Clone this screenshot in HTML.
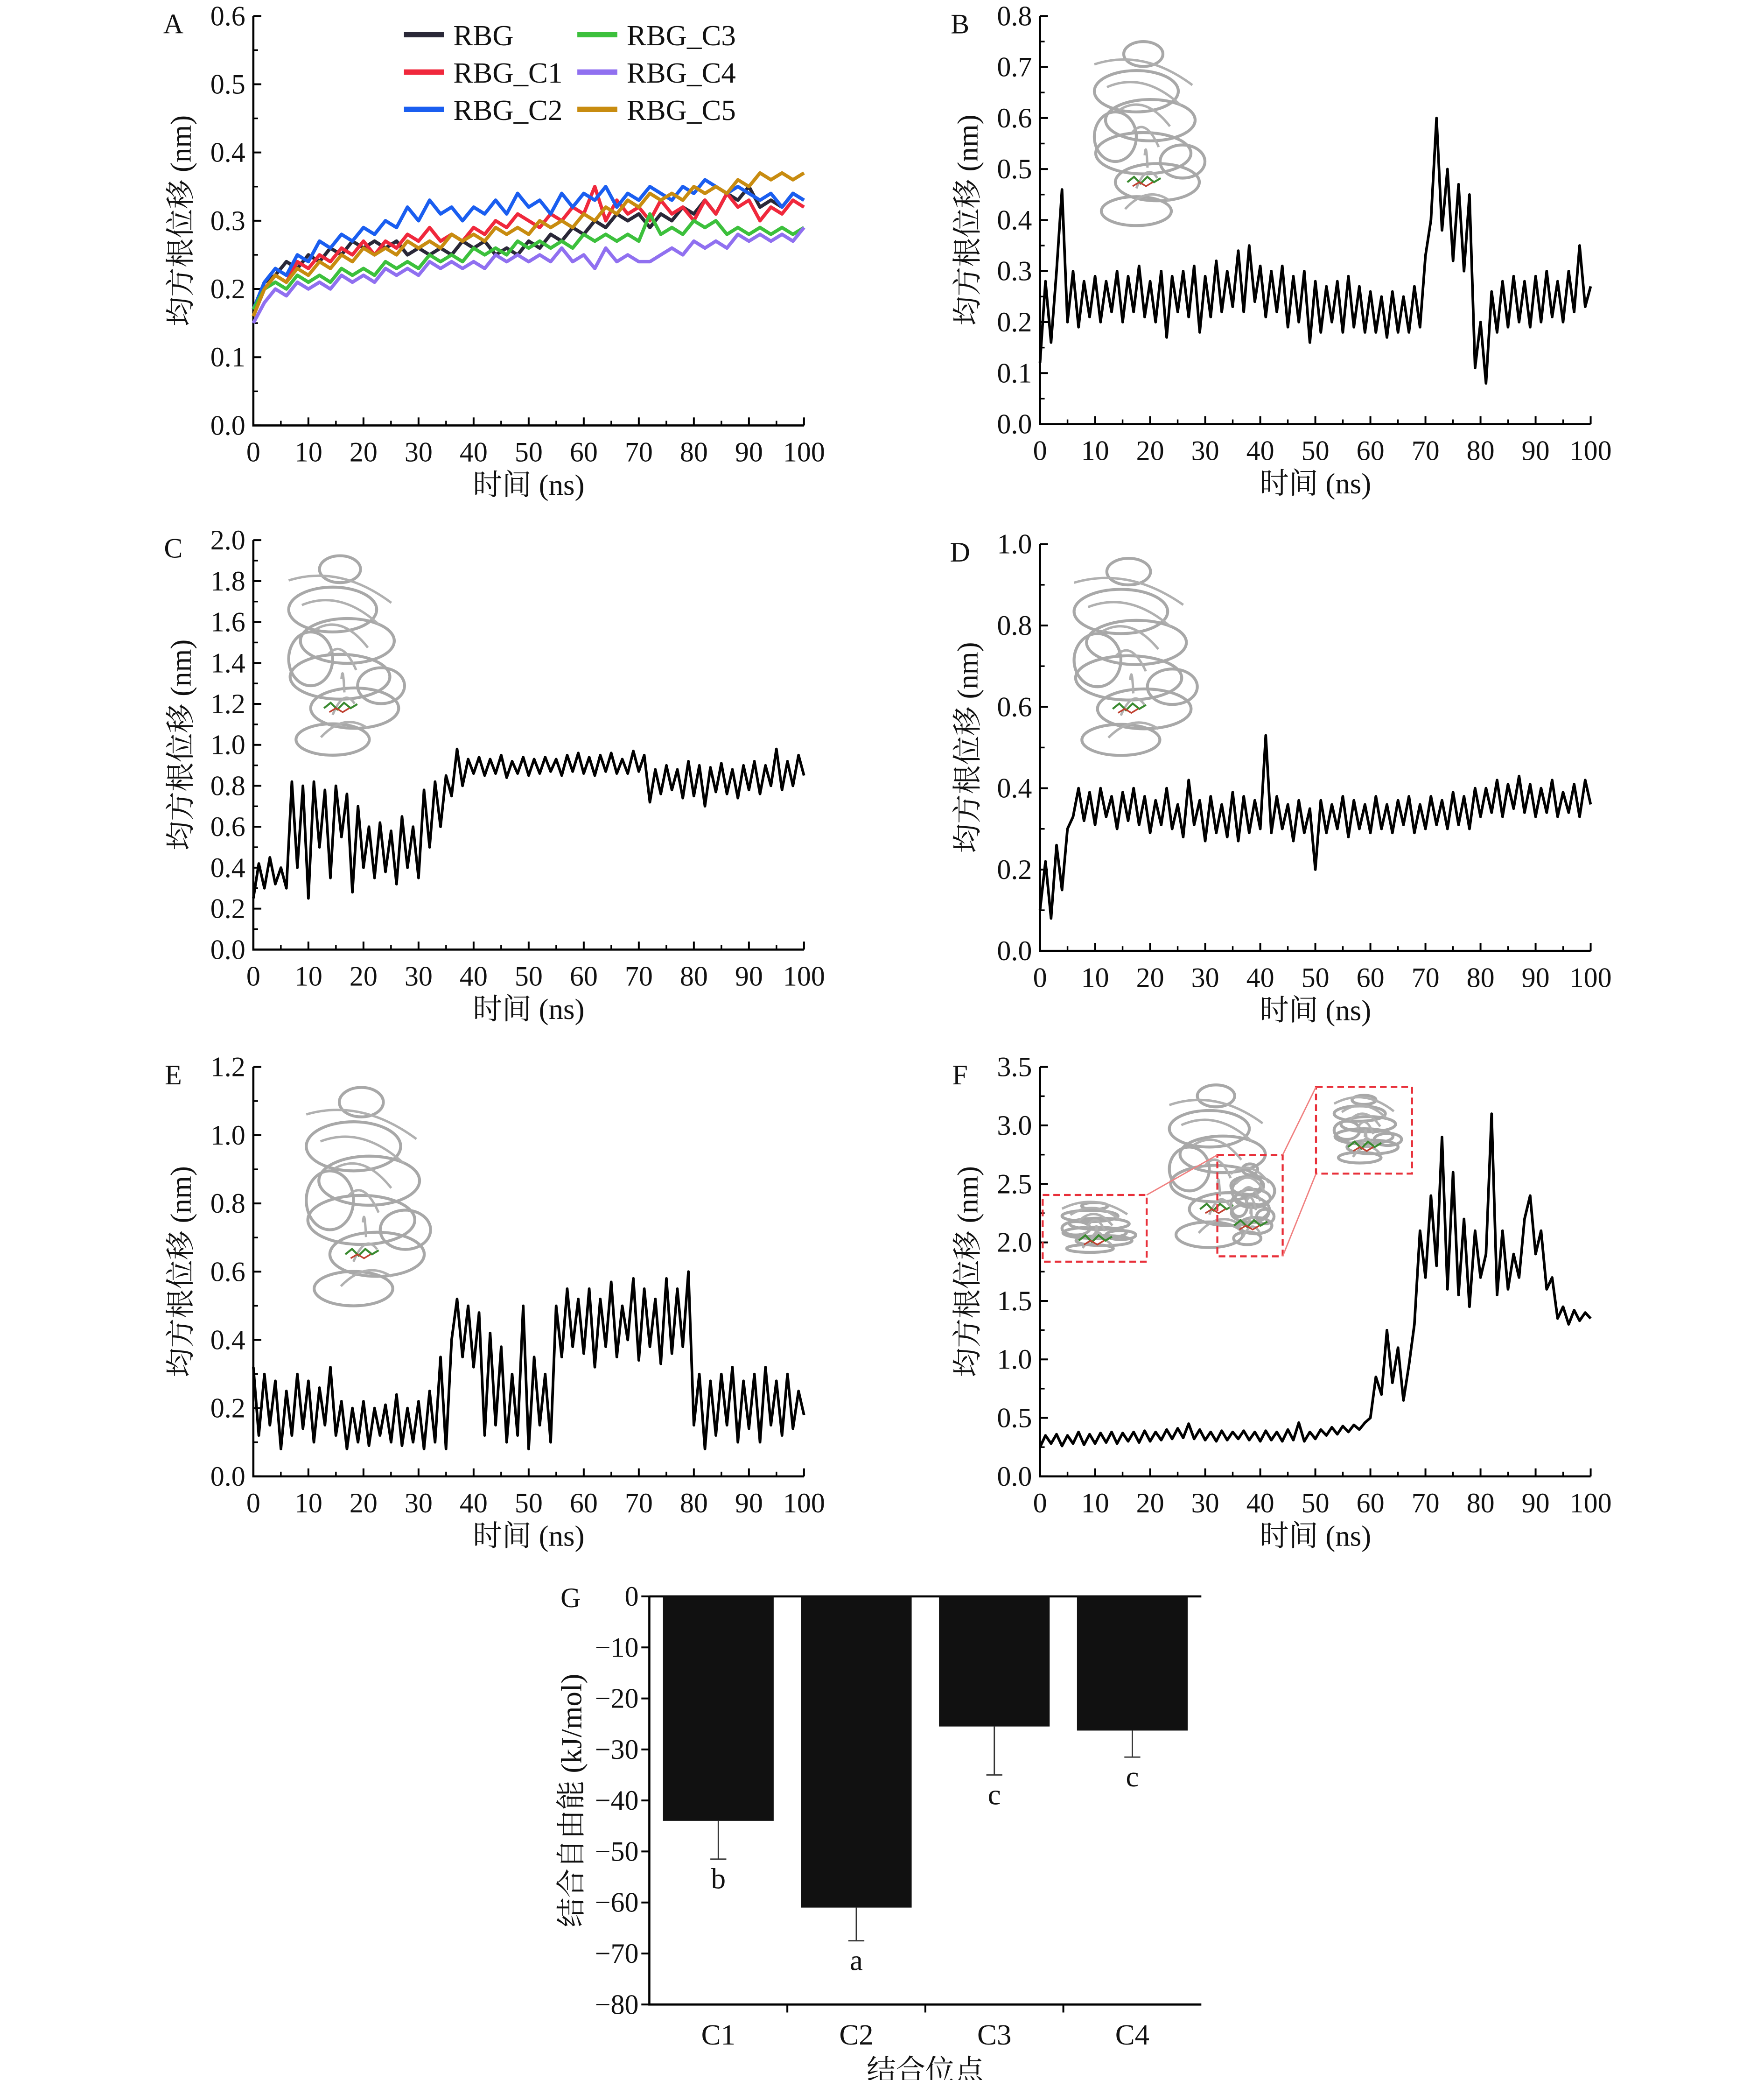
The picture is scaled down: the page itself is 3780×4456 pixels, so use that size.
<!DOCTYPE html>
<html><head><meta charset="utf-8"><style>
html,body{margin:0;padding:0;background:#fff}
svg{display:block}
text{font-family:"Liberation Serif","Noto Serif CJK SC","Noto Sans CJK SC",serif;fill:#111}
</style></head><body>
<svg id="fig" width="3780" height="4456" viewBox="0 0 1323 1559.6" preserveAspectRatio="none" xmlns="http://www.w3.org/2000/svg"></svg>
<script>
// ---------- data ----------
const seriesNamesA = ["RBG","RBG_C1","RBG_C2","RBG_C3","RBG_C4","RBG_C5"];
const seriesColorsA = ["#2a2838","#f0283c","#1a5ef0","#3cc03c","#9070f0","#c88c10"];
const rbgA = [0.17,0.21,0.22,0.24,0.23,0.25,0.24,0.26,0.25,0.27,0.26,0.27,0.26,0.27,0.25,0.26,0.25,0.26,0.25,0.27,0.26,0.27,0.25,0.26,0.25,0.27,0.26,0.28,0.27,0.29,0.28,0.30,0.29,0.31,0.30,0.31,0.29,0.31,0.30,0.32,0.31,0.33,0.31,0.34,0.33,0.35,0.32,0.33,0.32,0.34,0.33];
const c1A = [0.16,0.20,0.22,0.21,0.24,0.23,0.25,0.24,0.26,0.25,0.27,0.25,0.27,0.26,0.28,0.27,0.29,0.27,0.28,0.27,0.29,0.28,0.30,0.29,0.31,0.30,0.29,0.31,0.30,0.32,0.31,0.35,0.30,0.33,0.31,0.32,0.30,0.33,0.31,0.32,0.30,0.33,0.31,0.34,0.32,0.33,0.30,0.32,0.31,0.33,0.32];
const c2A = [0.17,0.21,0.23,0.22,0.25,0.24,0.27,0.26,0.28,0.27,0.29,0.28,0.30,0.29,0.32,0.30,0.33,0.31,0.32,0.30,0.32,0.31,0.33,0.31,0.34,0.32,0.33,0.31,0.34,0.32,0.34,0.33,0.35,0.32,0.34,0.33,0.35,0.34,0.33,0.35,0.34,0.36,0.35,0.34,0.35,0.34,0.33,0.34,0.32,0.34,0.33];
const c3A = [0.17,0.20,0.21,0.20,0.22,0.21,0.22,0.21,0.23,0.22,0.23,0.22,0.24,0.23,0.24,0.23,0.25,0.24,0.25,0.24,0.26,0.25,0.26,0.25,0.27,0.26,0.27,0.26,0.27,0.26,0.28,0.27,0.28,0.27,0.28,0.27,0.31,0.28,0.29,0.28,0.30,0.29,0.30,0.28,0.29,0.28,0.29,0.28,0.29,0.28,0.29];
const c4A = [0.15,0.18,0.20,0.19,0.21,0.20,0.21,0.20,0.22,0.21,0.22,0.21,0.23,0.22,0.23,0.22,0.24,0.23,0.24,0.23,0.24,0.23,0.25,0.24,0.25,0.24,0.25,0.24,0.26,0.24,0.25,0.23,0.26,0.24,0.25,0.24,0.24,0.25,0.26,0.25,0.27,0.26,0.27,0.26,0.28,0.27,0.28,0.27,0.28,0.27,0.29];
const c5A = [0.16,0.20,0.22,0.21,0.23,0.22,0.24,0.23,0.25,0.24,0.26,0.25,0.26,0.25,0.27,0.26,0.27,0.26,0.28,0.27,0.28,0.27,0.29,0.28,0.29,0.28,0.30,0.29,0.30,0.29,0.31,0.30,0.32,0.31,0.33,0.32,0.34,0.33,0.34,0.33,0.35,0.34,0.35,0.34,0.36,0.35,0.37,0.36,0.37,0.36,0.37];
const rmsdB = [0.12,0.28,0.16,0.30,0.46,0.20,0.30,0.19,0.28,0.21,0.29,0.20,0.28,0.22,0.30,0.20,0.29,0.22,0.31,0.21,0.28,0.20,0.30,0.17,0.29,0.22,0.30,0.21,0.31,0.18,0.29,0.21,0.32,0.22,0.30,0.23,0.34,0.22,0.35,0.24,0.31,0.21,0.30,0.22,0.31,0.19,0.29,0.20,0.30,0.16,0.28,0.18,0.27,0.20,0.28,0.18,0.29,0.19,0.27,0.18,0.26,0.18,0.25,0.17,0.26,0.18,0.25,0.18,0.27,0.19,0.33,0.40,0.60,0.38,0.50,0.32,0.47,0.30,0.45,0.11,0.20,0.08,0.26,0.18,0.28,0.19,0.29,0.20,0.28,0.19,0.29,0.20,0.30,0.21,0.28,0.20,0.30,0.22,0.35,0.23,0.27];
const rmsdC = [0.25,0.42,0.30,0.45,0.32,0.40,0.30,0.82,0.40,0.80,0.25,0.82,0.50,0.78,0.35,0.80,0.55,0.76,0.28,0.70,0.40,0.60,0.35,0.62,0.38,0.58,0.32,0.65,0.40,0.60,0.35,0.78,0.50,0.82,0.60,0.85,0.75,0.98,0.80,0.93,0.86,0.94,0.85,0.93,0.86,0.95,0.84,0.92,0.86,0.94,0.85,0.93,0.86,0.94,0.87,0.93,0.85,0.95,0.87,0.96,0.86,0.94,0.85,0.95,0.87,0.96,0.86,0.93,0.86,0.97,0.87,0.95,0.72,0.88,0.76,0.90,0.78,0.88,0.74,0.92,0.75,0.90,0.70,0.89,0.77,0.91,0.76,0.88,0.74,0.90,0.78,0.92,0.76,0.90,0.80,0.98,0.78,0.92,0.80,0.95,0.85];
const rmsdD = [0.10,0.22,0.08,0.26,0.15,0.30,0.33,0.40,0.32,0.39,0.31,0.40,0.33,0.38,0.30,0.39,0.32,0.40,0.31,0.38,0.29,0.37,0.31,0.40,0.30,0.36,0.28,0.42,0.31,0.37,0.27,0.38,0.29,0.36,0.28,0.39,0.27,0.38,0.29,0.37,0.30,0.53,0.29,0.38,0.30,0.36,0.27,0.37,0.29,0.35,0.20,0.37,0.29,0.36,0.30,0.38,0.28,0.37,0.30,0.36,0.29,0.38,0.30,0.36,0.29,0.37,0.31,0.38,0.29,0.36,0.30,0.38,0.31,0.37,0.30,0.39,0.31,0.38,0.30,0.40,0.33,0.40,0.34,0.42,0.33,0.41,0.35,0.43,0.34,0.41,0.33,0.40,0.34,0.42,0.33,0.39,0.34,0.41,0.33,0.42,0.36];
const rmsdE = [0.32,0.12,0.30,0.15,0.28,0.08,0.25,0.12,0.30,0.14,0.28,0.10,0.26,0.15,0.32,0.12,0.22,0.08,0.20,0.10,0.22,0.09,0.20,0.12,0.21,0.10,0.24,0.09,0.20,0.10,0.22,0.08,0.25,0.10,0.35,0.08,0.40,0.52,0.35,0.50,0.32,0.48,0.12,0.42,0.15,0.38,0.10,0.30,0.12,0.50,0.08,0.35,0.15,0.30,0.10,0.50,0.35,0.55,0.38,0.52,0.36,0.55,0.32,0.52,0.38,0.57,0.35,0.50,0.40,0.58,0.34,0.55,0.38,0.52,0.33,0.58,0.36,0.55,0.38,0.60,0.15,0.30,0.08,0.28,0.12,0.30,0.15,0.32,0.10,0.28,0.14,0.30,0.10,0.32,0.15,0.28,0.12,0.30,0.14,0.25,0.18];
const rmsdF = [0.25,0.35,0.28,0.36,0.26,0.35,0.28,0.38,0.27,0.36,0.28,0.37,0.29,0.38,0.28,0.37,0.30,0.38,0.29,0.39,0.30,0.38,0.31,0.40,0.32,0.41,0.33,0.45,0.32,0.40,0.31,0.38,0.30,0.39,0.31,0.38,0.32,0.39,0.31,0.38,0.30,0.39,0.31,0.38,0.30,0.40,0.31,0.46,0.30,0.38,0.32,0.40,0.35,0.42,0.36,0.43,0.38,0.44,0.40,0.46,0.50,0.85,0.70,1.25,0.80,1.10,0.65,0.95,1.30,2.10,1.70,2.40,1.80,2.90,1.60,2.60,1.55,2.20,1.45,2.10,1.70,1.90,3.10,1.55,2.10,1.60,1.90,1.70,2.20,2.40,1.90,2.10,1.60,1.70,1.35,1.45,1.30,1.42,1.33,1.40,1.35];
const xTicks = [0,10,20,30,40,50,60,70,80,90,100];
const gCategories = ["C1","C2","C3","C4"];
const gValues = [-44,-61,-25.5,-26.3];
const gErrors = [7.5,6.5,9.5,5.2];
const gLetters = ["b","a","c","c"];
const gTicks = [0,-10,-20,-30,-40,-50,-60,-70,-80];

// ---------- helpers ----------
const NS="http://www.w3.org/2000/svg";
const fig=document.getElementById('fig');
function mk(tag,attrs,parent){const e=document.createElementNS(NS,tag);for(const k in attrs)e.setAttribute(k,attrs[k]);(parent||fig).appendChild(e);return e;}
function txt(s,x,y,size,anchor,parent){const t=mk('text',{x:x,y:y,'font-size':size,'text-anchor':anchor||'middle'},parent);t.textContent=s;return t;}

function panel(p){
  const g=mk('g',{});
  
  
  const X=v=>p.x0+(v-0)/100*(p.x1-p.x0);
  const Y=v=>p.y0-(v-p.ymin)/(p.ymax-p.ymin)*(p.y0-p.y1);
  const ax=mk('path',{d:`M${p.x0},${p.y1} V${p.y0} H${p.x1}`,stroke:'#000','stroke-width':1.6,fill:'none'},g);
  
  
  const n=Math.round((p.ymax-p.ymin)/p.ystep);
  for(let i=0;i<=n;i++){
    const v=p.ymin+i*p.ystep, y=Y(v);
    mk('line',{x1:p.x0,x2:p.x0+6,y1:y,y2:y,stroke:'#000','stroke-width':1.4},g);
    if(i<n){const ym=Y(v+p.ystep/2);mk('line',{x1:p.x0,x2:p.x0+3.5,y1:ym,y2:ym,stroke:'#000','stroke-width':1.2},g);}
    const lab=txt(v.toFixed(1),p.x0-6,y+7,21,'end',g);
    
    
  }
  xTicks.forEach((v,i)=>{
    const x=X(v);
    mk('line',{x1:x,x2:x,y1:p.y0,y2:p.y0-6,stroke:'#000','stroke-width':1.4},g);
    if(i<xTicks.length-1){const xm=X(v+5);mk('line',{x1:xm,x2:xm,y1:p.y0,y2:p.y0-3.5,stroke:'#000','stroke-width':1.2},g);}
    const lab=txt(String(v),x,p.y0+27,21,'middle',g);
    
    
  });
  const xt=txt('时间 (ns)',(p.x0+p.x1)/2,p.y0+52,22,'middle',g);
  
  
  const yc=(p.y0+p.y1)/2, yx=p.x0-55;
  const yt=txt('均方根位移 (nm)',yx,yc+8,22,'middle',g);
  yt.setAttribute('transform',`rotate(-90 ${yx} ${yc})`);
  
  
  const pl=txt(p.letter,p.x0-60,p.y1+13,21,'middle',g);
  
  
  p.series.forEach((s,k)=>{
    const pts=s.map((v,i)=>X(i*100/(s.length-1)).toFixed(1)+','+Y(v).toFixed(1)).join(' ');
    const line=mk('polyline',{points:pts,fill:'none',stroke:p.colors[k],'stroke-width':p.sw||2,'stroke-linejoin':'round'},g);
    
    
  });
  return g;
}

function protein(x,y,w,h){
  const g=mk('g',{});
  
  
  const c=(a,b)=>[x+a*w,y+b*h];
  const shapes=[[0.5,0.1,0.14,0.06],[0.45,0.28,0.3,0.1],[0.55,0.42,0.32,0.1],[0.5,0.58,0.34,0.1],[0.6,0.72,0.3,0.09],[0.45,0.86,0.25,0.07],[0.3,0.5,0.15,0.12],[0.78,0.62,0.16,0.08]];
  shapes.forEach(s=>{const [cx,cy]=c(s[0],s[1]);mk('ellipse',{cx:cx,cy:cy,rx:s[2]*w,ry:s[3]*h,fill:'none',stroke:'#a8a8a8','stroke-width':2.2},g);});
  for(let i=0;i<7;i++){const [a,b]=c(0.15+0.09*i,0.15+0.11*i);const [e,f]=c(0.85-0.08*i,0.25+0.1*i);
    mk('path',{d:`M${a},${b} Q${(a+e)/2},${b-12} ${e},${f}`,stroke:'#b0b0b0','stroke-width':1.8,fill:'none'},g);}
  const [lx,ly]=c(0.5,0.72);
  mk('path',{d:`M${lx-12},${ly} l5,-4 l5,5 l5,-5 l5,4 l5,-3`,stroke:'#3a8a30','stroke-width':1.5,fill:'none'},g);
  mk('path',{d:`M${lx-8},${ly+3} l5,-3 l5,3 l5,-3`,stroke:'#c04030','stroke-width':1.2,fill:'none'},g);
  return g;
}

// ---------- panels ----------
panel({letter:'A',x0:190,x1:603,y0:319,y1:12,ymin:0,ymax:0.6,ystep:0.1,series:[rbgA,c1A,c2A,c3A,c4A,c5A],colors:seriesColorsA,names:seriesNamesA,sw:2.6});
panel({letter:'B',x0:780,x1:1193,y0:318,y1:12,ymin:0,ymax:0.8,ystep:0.1,series:[rmsdB],colors:['#000']});
panel({letter:'C',x0:190,x1:603,y0:712,y1:405,ymin:0,ymax:2.0,ystep:0.2,series:[rmsdC],colors:['#000']});
panel({letter:'D',x0:780,x1:1193,y0:713,y1:408,ymin:0,ymax:1.0,ystep:0.2,series:[rmsdD],colors:['#000']});
panel({letter:'E',x0:190,x1:603,y0:1107,y1:800,ymin:0,ymax:1.2,ystep:0.2,series:[rmsdE],colors:['#000']});
panel({letter:'F',x0:780,x1:1193,y0:1107,y1:800,ymin:0,ymax:3.5,ystep:0.5,series:[rmsdF],colors:['#000']});

// legend A
const leg=mk('g',{});


seriesNamesA.forEach((nm,i)=>{
  const col=Math.floor(i/3), row=i%3;
  const lx=col?433:303, ly=26+row*28;
  const e=mk('g',{},leg);
  
  
  mk('line',{x1:lx,x2:lx+30,y1:ly,y2:ly,stroke:seriesColorsA[i],'stroke-width':4},e);
  txt(nm,lx+37,ly+8,22,'start',e);
});

// insets
protein(805,25,105,155);
protein(200,410,110,168);
protein(788,412,117,166);
protein(212,808,118,184);
protein(862,808,100,137);
const boxes=[[782,896,78,50],[913,866,49,76],[987,815,72,65]];
boxes.forEach(b=>{
  protein(b[0]+4,b[1]+4,b[2]-8,b[3]-8);
  const r=mk('rect',{x:b[0],y:b[1],width:b[2],height:b[3],fill:'none',stroke:'#e8303a','stroke-width':1.5,'stroke-dasharray':'5,3'});
  
  
});
mk('line',{x1:860,y1:896,x2:913,y2:866,stroke:'#f08080','stroke-width':1});
mk('line',{x1:962,y1:866,x2:987,y2:815,stroke:'#f08080','stroke-width':1});
mk('line',{x1:962,y1:942,x2:987,y2:880,stroke:'#f08080','stroke-width':1});

// ---------- panel G ----------
(function(){
  const g=mk('g',{});
  
  
  const x0=487,x1=901,yTop=1197,yBot=1503;
  const Y=v=>yTop+(-v)/80*(yBot-yTop);
  const band=(x1-x0)/gCategories.length;
  mk('path',{d:`M${x0},${Y(0)} H${x1} M${x0},${yTop} V${yBot} H${x1}`,stroke:'#000','stroke-width':1.6,fill:'none'},g);
  gTicks.forEach(v=>{
    const y=Y(v);
    mk('line',{x1:x0,x2:x0-6,y1:y,y2:y,stroke:'#000','stroke-width':1.4},g);
    const l=txt(v===0?'0':'−'+Math.abs(v),x0-8,y+7,21,'end',g);
    
    
  });
  gCategories.forEach((c,i)=>{
    const cx=x0+band*(i+0.5), bw=83;
    const bar=mk('rect',{x:cx-bw/2,y:Y(0),width:bw,height:Y(gValues[i])-Y(0),fill:'#111'},g);
    
    
    const ye=Y(gValues[i]-gErrors[i]);
    const eb=mk('path',{d:`M${cx},${Y(gValues[i])} V${ye} M${cx-6},${ye} H${cx+6}`,stroke:'#333','stroke-width':1},g);
    
    
    const lt=txt(gLetters[i],cx,ye+22,22,'middle',g);
    
    
    const xl=txt(c,cx,yBot+30,22,'middle',g);
    
    
    if(i>0) mk('line',{x1:x0+band*i,x2:x0+band*i,y1:yBot,y2:yBot+6,stroke:'#000','stroke-width':1.4},g);
  });
  const xt=txt('结合位点',(x0+x1)/2,yBot+57,22,'middle',g);
  
  
  const yc=(yTop+yBot)/2, yx=428;
  const yt=txt('结合自由能 (kJ/mol)',yx,yc+8,22,'middle',g);
  yt.setAttribute('transform',`rotate(-90 ${yx} ${yc})`);
  
  
  const pl=txt('G',428,1205,21,'middle',g);
  
  
})();
</script>
</body></html>
